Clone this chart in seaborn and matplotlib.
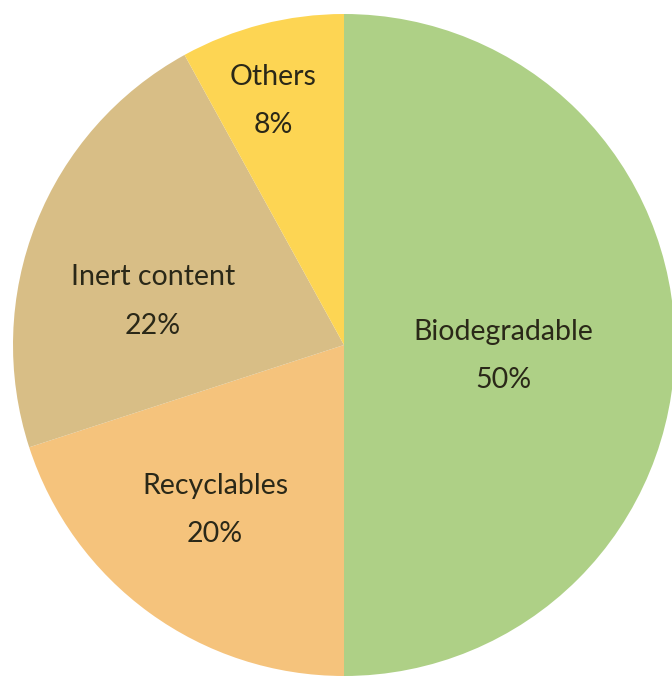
import matplotlib
matplotlib.use("Agg")
import matplotlib.pyplot as plt
import seaborn as sns
import numpy as np

categories = ["Biodegradable", "Recyclables", "Inert content", "Others"]
values = [50, 20, 22, 8]
colors = ["#aed086", "#f5c37c", "#d8be86", "#fdd553"]

sns.set_theme(style="white")
plt.rcParams['font.family'] = ['Lato', 'DejaVu Sans']
palette = sns.color_palette(colors)

W, H = 672, 677
fig = plt.figure(figsize=(W / 100, H / 100), dpi=100)
ax = fig.add_axes([0, 0, 1, 1])

cx, cy, R = 344, H - 345, 331
wedges, _ = ax.pie(values, colors=palette, startangle=90, counterclock=False,
                   center=(cx, cy), radius=R, frame=True,
                   wedgeprops=dict(linewidth=0))
ax.set_xlim(0, W)
ax.set_ylim(0, H)
ax.set_aspect("equal")
ax.axis("off")

# label placement (radius fraction, angle offset in degrees) per slice
label_r = [0.482, 0.633, 0.592, 0.768]
label_da = [-4, -2, 8.8, 1.8]
for w, cat, v, rf, da in zip(wedges, categories, values, label_r, label_da):
    ang = np.deg2rad((w.theta1 + w.theta2) / 2 + da)
    x = cx + rf * R * np.cos(ang)
    y = cy + rf * R * np.sin(ang)
    ax.text(x, y, f"{cat}\n{v}%", ha="center", va="center", fontsize=20.5,
            color="#2a2818", linespacing=2.08)

fig.savefig("out.png", dpi=100)
